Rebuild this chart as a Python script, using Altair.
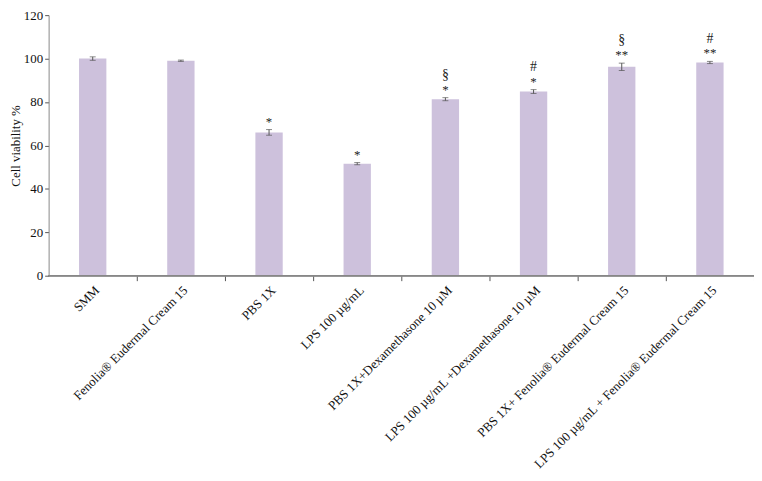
import altair as alt
import pandas as pd

categories = [
    "SMM",
    "Fenolia® Eudermal Cream 15",
    "PBS 1X",
    "LPS 100 µg/mL",
    "PBS 1X+Dexamethasone 10 µM",
    "LPS 100 µg/mL +Dexamethasone 10 µM",
    "PBS 1X+ Fenolia® Eudermal Cream 15",
    "LPS 100 µg/mL + Fenolia® Eudermal Cream 15",
]
values = [100.0, 99.0, 66.0, 51.6, 81.3, 84.8, 96.2, 98.2]
errors = [0.8, 0.3, 1.3, 0.5, 0.7, 0.9, 1.7, 0.5]
stars = ["", "", "*", "*", "*", "*", "**", "**"]
symbols = ["", "", "", "", "§", "#", "§", "#"]

df = pd.DataFrame({
    "cat": categories,
    "val": values,
    "lo": [v - e for v, e in zip(values, errors)],
    "hi": [v + e for v, e in zip(values, errors)],
    "star": stars,
    "sym": symbols,
})

FONT = "Liberation Serif"
PLOT_W = 712
STEP = PLOT_W / len(categories)

x = alt.X(
    "cat:N",
    sort=categories,
    title=None,
    scale=alt.Scale(paddingInner=0.69, paddingOuter=0.345),
    axis=alt.Axis(
        labelAngle=-45,
        labelFont=FONT,
        labelFontSize=13,
        labelColor="#111",
        labelLimit=400,
        labelPadding=3,
        tickSize=5,
        tickOffset=STEP / 2,
        labelOffset=-STEP / 2,
        tickColor="#555",
        domain=False,
    ),
)

base = alt.Chart(df)

bars = base.mark_bar(color="#CDC1DC").encode(
    x=x,
    y=alt.Y(
        "val:Q",
        title="Cell viability %",
        scale=alt.Scale(domain=[0, 120], nice=False),
        axis=alt.Axis(
            values=[0, 20, 40, 60, 80, 100, 120],
            grid=False,
            labelFont=FONT,
            labelFontSize=13,
            labelColor="#111",
            titleFont=FONT,
            titleFontSize=13,
            titleFontWeight="normal",
            titleColor="#111",
            titlePadding=1,
            tickSize=4,
            tickColor="#555",
            domainColor="#888",
        ),
    ),
)

baseline = base.mark_rule(color="#888", strokeWidth=1).encode(
    x=alt.value(0),
    x2=alt.value(PLOT_W),
    y=alt.datum(0),
)

rules = base.mark_rule(color="#555", strokeWidth=1).encode(
    x=alt.X("cat:N", sort=categories),
    y="lo:Q",
    y2="hi:Q",
)
cap_hi = base.mark_tick(color="#555", thickness=1, size=6, orient="horizontal").encode(
    x=alt.X("cat:N", sort=categories), y="hi:Q"
)
cap_lo = base.mark_tick(color="#555", thickness=1, size=6, orient="horizontal").encode(
    x=alt.X("cat:N", sort=categories), y="lo:Q"
)

star_text = base.mark_text(font=FONT, fontSize=13, color="#222", dy=-4, baseline="alphabetic").encode(
    x=alt.X("cat:N", sort=categories), y="hi:Q", text="star:N"
)
sym_text = base.mark_text(font=FONT, fontSize=14, color="#222", dy=-19, baseline="alphabetic").encode(
    x=alt.X("cat:N", sort=categories), y="hi:Q", text="sym:N"
)

chart = (
    alt.layer(bars, baseline, rules, cap_hi, cap_lo, star_text, sym_text)
    .properties(
        width=PLOT_W,
        height=263,
        autosize=alt.AutoSizeParams(type="none"),
        padding={"left": 41, "top": 5, "right": 0, "bottom": 205},
    )
    .configure_view(stroke=None)
)

chart.save("out.html", embed_options={"renderer": "svg", "actions": False})
